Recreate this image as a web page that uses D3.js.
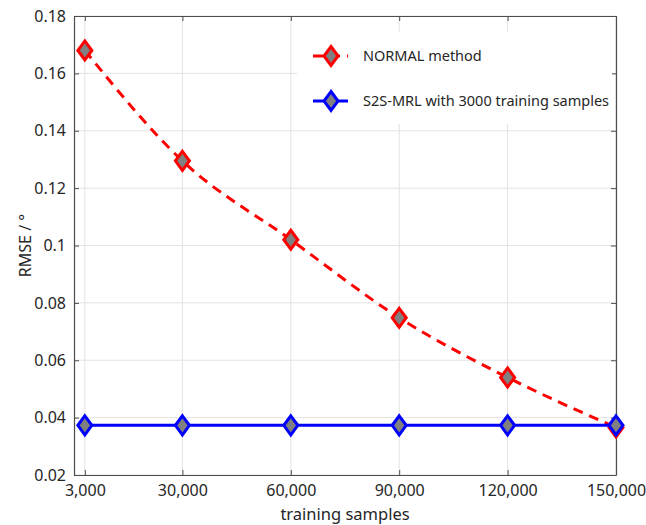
<!DOCTYPE html>
<html>
<head>
<meta charset="utf-8">
<script src="https://cdn.jsdelivr.net/npm/d3@7/dist/d3.min.js"></script>
<style>
  html, body { margin: 0; padding: 0; background: #fff; }
  svg { display: block; font-family: "Noto Sans", "Open Sans", sans-serif; }
</style>
</head>
<body>
<svg id="chart" width="646" height="525"></svg>
<script>
// ---- data ----
const samples = [3000, 30000, 60000, 90000, 120000, 150000];
const normalRMSE = [0.168, 0.1295, 0.102, 0.0748, 0.054, 0.0366];
const s2sRMSE = [0.0373, 0.0373, 0.0373, 0.0373, 0.0373, 0.0373];
const xTickLabels = ["3,000", "30,000", "60,000", "90,000", "120,000", "150,000"];
const yTicks = [0.02, 0.04, 0.06, 0.08, 0.1, 0.12, 0.14, 0.16, 0.18];
const yTickLabels = ["0.02", "0.04", "0.06", "0.08", "0.1", "0.12", "0.14", "0.16", "0.18"];
const seriesNames = ["NORMAL method", "S2S-MRL with 3000 training samples"];
const seriesColors = ["#ff0000", "#0000ff"];

const svg = d3.select("#chart");
const L = 74, R = 616, T = 16, B = 475;
const x = d3.scaleLinear().domain([0, 150000]).range([L, R]);
const y = d3.scaleLinear().domain([0.02, 0.18]).range([B, T]);

const gridColor = "#e3e3e3";
const axisColor = "#4d4d4d";
const textColor = "#262626";

// grid
const grid = svg.append("g");
grid.selectAll(".vg").data(samples).enter().append("line")
  .attr("x1", d => x(d)).attr("x2", d => x(d)).attr("y1", T).attr("y2", B)
  .attr("stroke", gridColor).attr("stroke-width", 1);
grid.selectAll(".hg").data(yTicks).enter().append("line")
  .attr("x1", L).attr("x2", R).attr("y1", d => y(d)).attr("y2", d => y(d))
  .attr("stroke", gridColor).attr("stroke-width", 1);

// axes via d3 axis (ticks inward)
const xAxis = d3.axisBottom(x).tickValues(samples).tickSizeInner(-5).tickSizeOuter(0)
  .tickPadding(10).tickFormat((d, i) => xTickLabels[i]);
svg.append("g").attr("transform", `translate(0,${B})`).call(xAxis);
const yAxis = d3.axisLeft(y).tickValues(yTicks).tickSizeInner(-5).tickSizeOuter(0)
  .tickPadding(8).tickFormat((d, i) => yTickLabels[i]);
svg.append("g").attr("transform", `translate(${L},0)`).call(yAxis);
// top & right box
const xTop = d3.axisTop(x).tickValues(samples).tickSizeInner(-5).tickSizeOuter(0).tickFormat("");
svg.append("g").attr("transform", `translate(0,${T})`).call(xTop);
const yRight = d3.axisRight(y).tickValues(yTicks).tickSizeInner(-5).tickSizeOuter(0).tickFormat("");
svg.append("g").attr("transform", `translate(${R},0)`).call(yRight);

svg.selectAll(".domain").attr("stroke", axisColor).attr("stroke-width", 1.2);
svg.selectAll(".tick line").attr("stroke", axisColor);
svg.selectAll(".tick text").attr("fill", textColor).style("font-size", "16px")
  .style("font-family", "'Noto Sans', 'Open Sans', sans-serif");

// axis titles
svg.append("text").attr("x", (L + R) / 2).attr("y", 520).attr("text-anchor", "middle")
  .attr("fill", textColor).style("font-size", "16.5px").text("training samples");
svg.append("text").attr("transform", `translate(31,${(T + B) / 2}) rotate(-90)`)
  .attr("text-anchor", "middle").attr("fill", textColor).style("font-size", "16px").text("RMSE / °");

// lines
const plot = svg.append("g");
const lineSmooth = d3.line().x((d, i) => x(samples[i])).y(d => y(d)).curve(d3.curveMonotoneX);
const lineStraight = d3.line().x((d, i) => x(samples[i])).y(d => y(d));

const diamond = (cx, cy) => `M${cx},${cy - 9.5}L${cx + 7},${cy}L${cx},${cy + 9.5}L${cx - 7},${cy}Z`;

plot.append("path").datum(normalRMSE).attr("d", lineSmooth)
  .attr("fill", "none").attr("stroke", seriesColors[0]).attr("stroke-width", 3)
  .attr("stroke-dasharray", "10,7");
plot.selectAll(".m1").data(normalRMSE).enter().append("path")
  .attr("d", (d, i) => diamond(x(samples[i]), y(d)))
  .attr("fill", "#808080").attr("stroke", seriesColors[0]).attr("stroke-width", 3);

plot.append("path").datum(s2sRMSE).attr("d", lineStraight)
  .attr("fill", "none").attr("stroke", seriesColors[1]).attr("stroke-width", 3);
plot.selectAll(".m2").data(s2sRMSE).enter().append("path")
  .attr("d", (d, i) => diamond(x(samples[i]), y(d)))
  .attr("fill", "#808080").attr("stroke", seriesColors[1]).attr("stroke-width", 3);

// legend
const lg = svg.append("g");
lg.append("rect").attr("x", 297).attr("y", 32).attr("width", 315).attr("height", 92).attr("fill", "#fff");
const legY = [56, 101];
seriesNames.forEach((name, i) => {
  const gy0 = legY[i];
  lg.append("line").attr("x1", 313).attr("x2", 348).attr("y1", gy0).attr("y2", gy0)
    .attr("stroke", seriesColors[i]).attr("stroke-width", 3)
    .attr("stroke-dasharray", i === 0 ? "10,7" : null);
  lg.append("path").attr("d", diamond(331, gy0)).attr("fill", "#808080")
    .attr("stroke", seriesColors[i]).attr("stroke-width", 3);
  lg.append("text").attr("x", 363).attr("y", gy0 + 5).attr("fill", textColor)
    .style("font-size", "14.5px").text(name);
});
</script>
</body>
</html>
